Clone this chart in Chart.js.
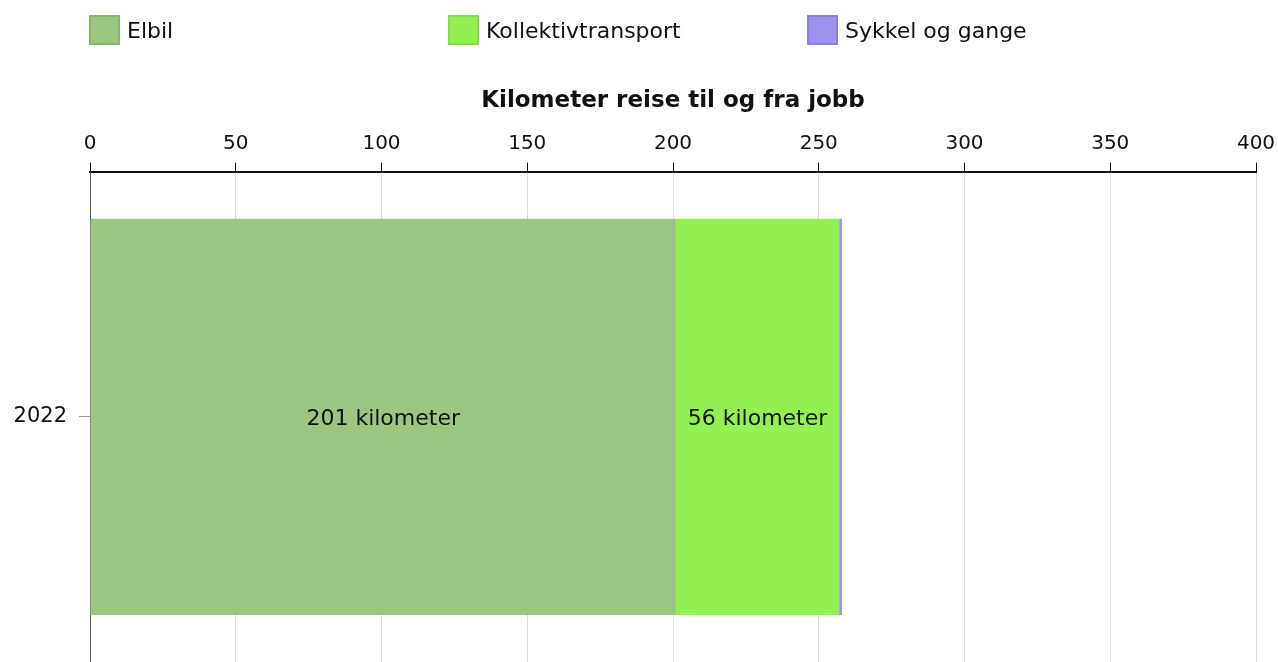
<!DOCTYPE html>
<html>
<head>
<meta charset="utf-8">
<script src="https://cdn.jsdelivr.net/npm/chart.js@4.4.1/dist/chart.umd.min.js"></script>
<style>
body { margin: 0; background: #fff; font-family: "DejaVu Sans", Verdana, sans-serif; }
#wrap { position: relative; width: 1278px; height: 662px; overflow: hidden; }
.item { position: absolute; top: 15px; display: flex; align-items: center; font-size: 22px; color: #111; white-space: nowrap; }
.boite { flex-shrink: 0; width: 31px; height: 30px; box-sizing: border-box; border: 2px solid; margin-right: 7px; }
</style>
</head>
<body>
<div id="wrap">
  <div id="legende"></div>
  <canvas id="myChart" width="1278" height="662"></canvas>
</div>
<script>
// --- Données ---
const annees = ['2022'];
const elbil = [201];
const kollektiv = [56];
const sykkel = [1];
const graduations = [0, 50, 100, 150, 200, 250, 300, 350, 400];

const series = [
  { label: 'Elbil', data: elbil, fond: '#9cc580', bord: '#86b868', etiquette: true },
  { label: 'Kollektivtransport', data: kollektiv, fond: '#92f052', bord: '#7fe33f', etiquette: true },
  { label: 'Sykkel og gange', data: sykkel, fond: '#9e93f1', bord: '#8a7ee8', etiquette: false }
];

const police = '"DejaVu Sans", Verdana, sans-serif';

// Légende en HTML (colonnes fixes comme dans l'original)
const positionsLegende = [89, 448, 807];
const legende = document.getElementById('legende');
series.forEach((s, i) => {
  const div = document.createElement('div');
  div.className = 'item';
  div.style.left = positionsLegende[i] + 'px';
  const boite = document.createElement('span');
  boite.className = 'boite';
  boite.style.background = s.fond;
  boite.style.borderColor = s.bord;
  div.appendChild(boite);
  div.appendChild(document.createTextNode(s.label));
  legende.appendChild(div);
});

// Texte "xxx kilometer" au centre des barres
const etiquettesBarres = {
  id: 'etiquettesBarres',
  afterDatasetsDraw(chart) {
    const ctx = chart.ctx;
    ctx.save();
    ctx.font = '22px ' + police;
    ctx.fillStyle = '#111';
    ctx.textAlign = 'center';
    ctx.textBaseline = 'middle';
    chart.data.datasets.forEach((ds, i) => {
      if (!series[i].etiquette) return;
      chart.getDatasetMeta(i).data.forEach((el, j) => {
        ctx.fillText(ds.data[j] + ' kilometer', (el.x + el.base) / 2, el.y + 2);
      });
    });
    ctx.restore();
  }
};

const ctx = document.getElementById('myChart').getContext('2d');
const myChartInstance = new Chart(ctx, {
  type: 'bar',
  data: {
    labels: annees,
    datasets: series.map(s => ({
      label: s.label,
      data: s.data,
      backgroundColor: s.fond,
      borderWidth: 0,
      categoryPercentage: 1,
      barPercentage: 0.808
    }))
  },
  options: {
    indexAxis: 'y',
    responsive: false,
    animation: false,
    layout: { padding: { top: 87, right: 22, left: 0, bottom: 0 } },
    plugins: {
      legend: { display: false },
      tooltip: { enabled: false }
    },
    scales: {
      x: {
        position: 'top',
        stacked: true,
        min: 0,
        max: 400,
        z: 1,
        afterBuildTicks: (axis) => { axis.ticks = graduations.map(v => ({ value: v })); },
        afterFit: (scale) => { scale.paddingLeft = 0; scale.paddingRight = 0; },
        ticks: { color: '#111', font: { size: 20, family: police }, padding: 7, maxRotation: 0 },
        grid: { color: 'rgba(0,0,0,0.15)', tickColor: '#111', tickLength: 9, lineWidth: 1 },
        border: { color: '#111', width: 2 },
        title: {
          display: true,
          text: 'Kilometer reise til og fra jobb',
          color: '#111',
          font: { size: 23, weight: 'bold', family: police },
          padding: { top: 0, bottom: 10 }
        }
      },
      y: {
        stacked: true,
        z: 1,
        afterFit: (scale) => { scale.width = 90; scale.paddingTop = 0; scale.paddingBottom = 0; },
        ticks: { color: '#111', font: { size: 21, family: police }, padding: 12 },
        grid: { offset: false, drawOnChartArea: false, tickColor: '#999', tickLength: 11 },
        border: { color: '#555', width: 1 }
      }
    }
  },
  plugins: [etiquettesBarres]
});
</script>
</body>
</html>
